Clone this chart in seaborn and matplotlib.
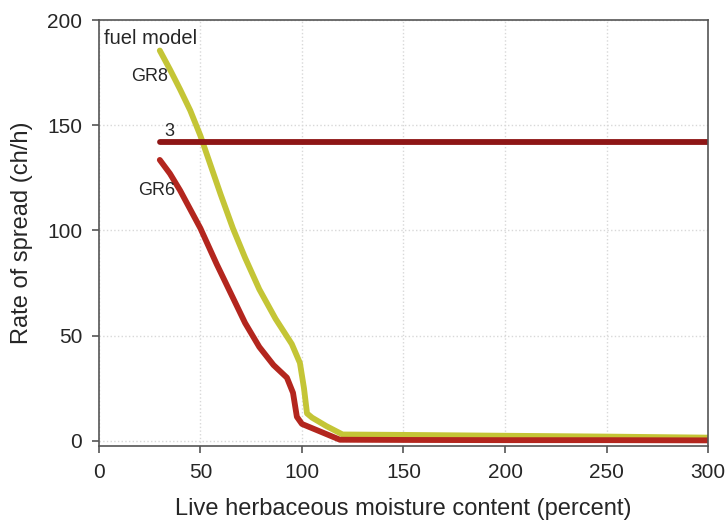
import matplotlib
matplotlib.use("Agg")
import matplotlib.pyplot as plt
import seaborn as sns
import pandas as pd

# values
gr8_x = [30, 35, 40, 45, 50, 55, 60, 66, 72, 79, 87, 95, 99, 101, 102.5, 105, 112, 120, 150, 200, 250, 300]
gr8_y = [185.5, 176.5, 167, 157, 145, 131, 117, 101, 87, 72, 58, 46, 37, 25, 13, 11, 7, 3, 2.8, 2.4, 2, 1.5]
gr6_x = [30, 35, 40, 45, 50, 58, 66, 72, 79, 86, 92.6, 95.6, 97.5, 100, 110, 118.7, 150, 200, 250, 300]
gr6_y = [133.5, 127, 119, 110, 101, 84, 68, 56, 44.6, 36, 30, 22.8, 11.4, 8, 4, 0.5, 0.4, 0.3, 0.3, 0.2]
fm3_x = [30, 300]
fm3_y = [142, 142]

df = pd.concat([
    pd.DataFrame({"moisture": gr8_x, "ros": gr8_y, "model": "GR8"}),
    pd.DataFrame({"moisture": gr6_x, "ros": gr6_y, "model": "GR6"}),
    pd.DataFrame({"moisture": fm3_x, "ros": fm3_y, "model": "3"}),
])

sns.set_style("white")
plt.rcParams["font.family"] = ["Liberation Sans", "DejaVu Sans"]

fig = plt.figure(figsize=(7.27, 5.27), dpi=100)
ax = fig.add_axes([0.136, 0.154, 0.838, 0.808])

colors = {"GR8": "#c4c536", "GR6": "#b3261e", "3": "#8e1616"}
sns.lineplot(data=df, x="moisture", y="ros", hue="model", palette=colors,
             linewidth=4.2, legend=False, ax=ax, sort=False)

ax.set_xlim(0, 300)
ax.set_ylim(-2.4, 200)
ax.set_xticks(range(0, 301, 50))
ax.set_yticks(range(0, 201, 50))
ax.grid(True, color="#d8d8d8", linestyle=":", linewidth=1)
for s in ax.spines.values():
    s.set_color("#555555")
    s.set_linewidth(1.2)
ax.tick_params(direction="out", length=5, width=1.2, color="#555555",
               labelsize=15, pad=7, left=True, bottom=True)

ax.set_xlabel("Live herbaceous moisture content (percent)", fontsize=17, labelpad=12)
ax.set_ylabel("Rate of spread (ch/h)", fontsize=17, labelpad=10)

ax.text(2.5, 191, "fuel model", fontsize=14.5, va="center", ha="left")
ax.text(16, 173, "GR8", fontsize=13, va="center", ha="left")
ax.text(32, 147, "3", fontsize=13, va="center", ha="left")
ax.text(19.5, 119, "GR6", fontsize=13, va="center", ha="left")

fig.savefig("out.png", dpi=100)
plt.close()
